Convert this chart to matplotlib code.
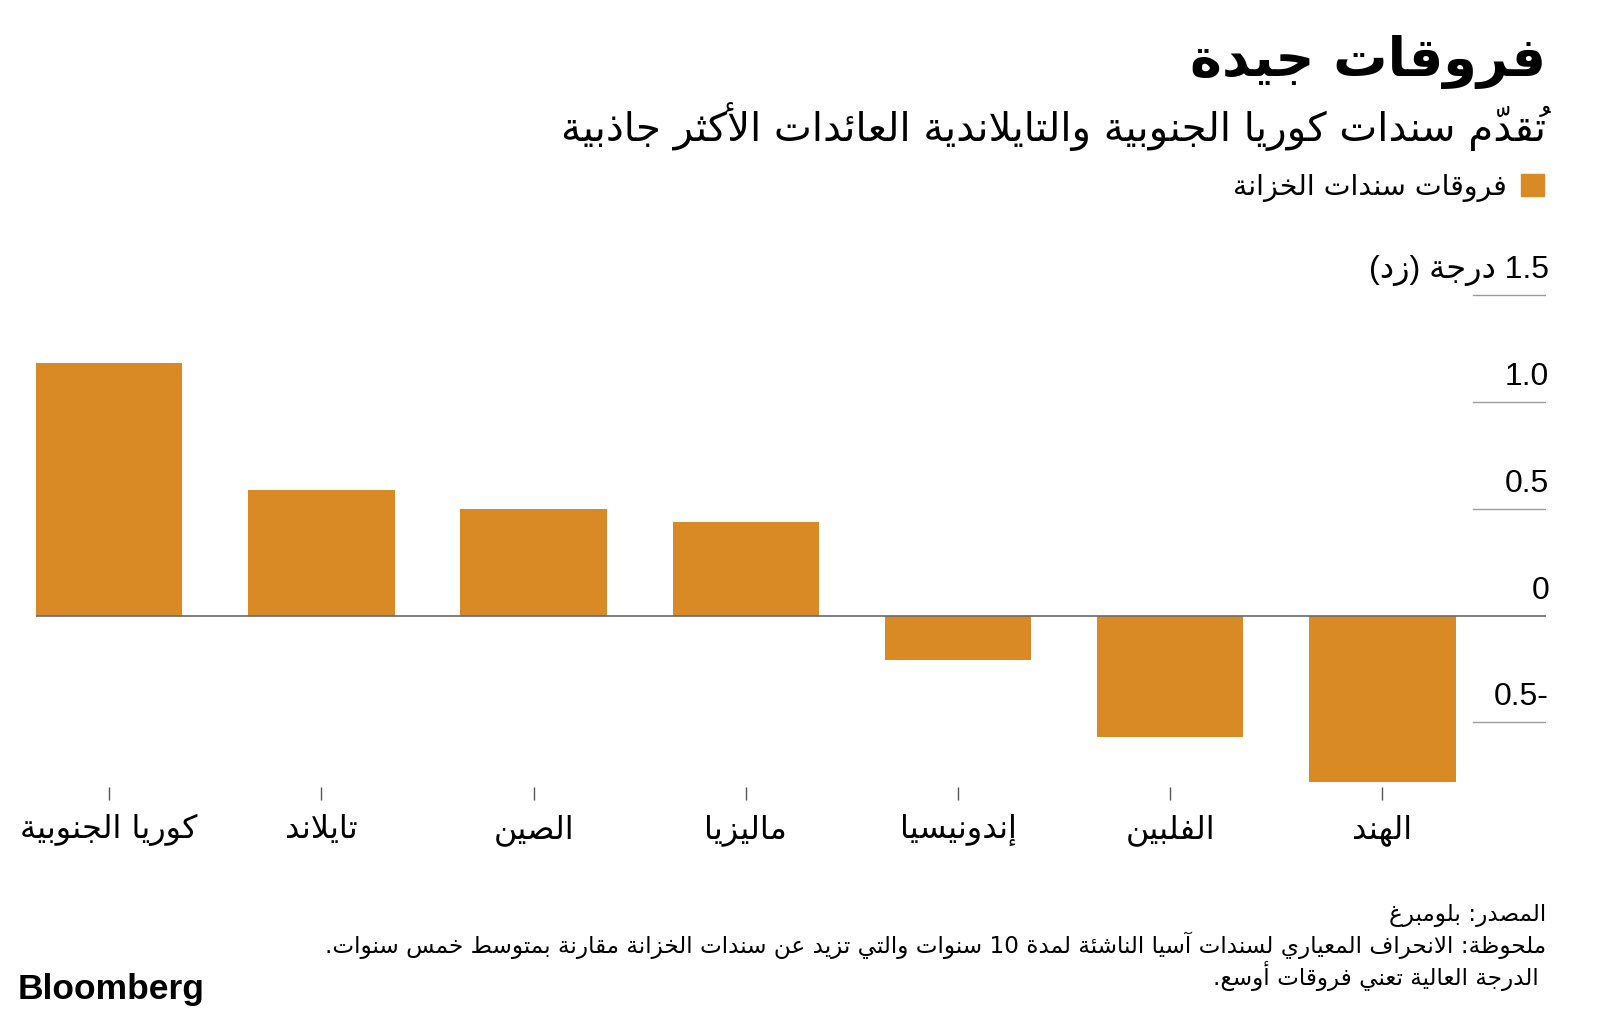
import matplotlib
matplotlib.use('Agg')
from matplotlib import pyplot as plt
from matplotlib import transforms
from matplotlib.patches import Patch

# Data (z-score of EM Asia 10y spreads over Treasuries)
countries = ['كوريا الجنوبية', 'تايلاند', 'الصين', 'ماليزيا', 'إندونيسيا', 'الفلبين', 'الهند']
spreads = [1.18, 0.59, 0.50, 0.44, -0.21, -0.57, -0.78]
ytick_vals = [1.0, 0.5, 0, -0.5]
ytick_labels = ['1.0', '0.5', '0', '-0.5']

title = 'فروقات جيدة'
subtitle = 'تُقدّم سندات كوريا الجنوبية والتايلاندية العائدات الأكثر جاذبية'
legend_label = 'فروقات سندات الخزانة'
unit_label = '1.5 درجة (زد)'
footer = ['المصدر: بلومبرغ',
          'ملحوظة: الانحراف المعياري لسندات آسيا الناشئة لمدة 10 سنوات والتي تزيد عن سندات الخزانة مقارنة بمتوسط خمس سنوات.',
          'الدرجة العالية تعني فروقات أوسع.']

BAR = '#D98A25'

# --- minimal arabic shaping + right-to-left ordering (matplotlib has no shaper) ---
FORMS = {
    'ء': (0xFE80, 1), 'آ': (0xFE81, 2), 'أ': (0xFE83, 2), 'ؤ': (0xFE85, 2),
    'إ': (0xFE87, 2), 'ئ': (0xFE89, 4), 'ا': (0xFE8D, 2), 'ب': (0xFE8F, 4),
    'ة': (0xFE93, 2), 'ت': (0xFE95, 4), 'ث': (0xFE99, 4), 'ج': (0xFE9D, 4),
    'ح': (0xFEA1, 4), 'خ': (0xFEA5, 4), 'د': (0xFEA9, 2), 'ذ': (0xFEAB, 2),
    'ر': (0xFEAD, 2), 'ز': (0xFEAF, 2), 'س': (0xFEB1, 4), 'ش': (0xFEB5, 4),
    'ص': (0xFEB9, 4), 'ض': (0xFEBD, 4), 'ط': (0xFEC1, 4), 'ظ': (0xFEC5, 4),
    'ع': (0xFEC9, 4), 'غ': (0xFECD, 4), 'ف': (0xFED1, 4), 'ق': (0xFED5, 4),
    'ك': (0xFED9, 4), 'ل': (0xFEDD, 4), 'م': (0xFEE1, 4), 'ن': (0xFEE5, 4),
    'ه': (0xFEE9, 4), 'و': (0xFEED, 2), 'ى': (0xFEEF, 2), 'ي': (0xFEF1, 4),
}
LAM_ALEF = {'آ': 0xFEF5, 'أ': 0xFEF7, 'إ': 0xFEF9, 'ا': 0xFEFB}
MARKS = set(chr(c) for c in range(0x064B, 0x0653))
MIRROR = {'(': ')', ')': '('}


def shape(s):
    cl = []
    for c in s:
        if c in MARKS and cl:
            cl[-1][1] += c
        else:
            cl.append([c, ''])

    def kind(k):
        if 0 <= k < len(cl):
            return FORMS.get(cl[k][0], (0, 0))[1]
        return 0

    out = []
    k = 0
    while k < len(cl):
        c, m = cl[k]
        start, n = FORMS.get(c, (0, 0))
        prev_joins = kind(k - 1) == 4 and n >= 2
        if c == 'ل' and k + 1 < len(cl) and cl[k + 1][0] in LAM_ALEF:
            out.append([chr(LAM_ALEF[cl[k + 1][0]] + prev_joins), m + cl[k + 1][1]])
            k += 2
            continue
        next_joins = n == 4 and kind(k + 1) >= 2
        if n == 0:
            g = c
        elif n == 4:
            g = chr(start + [[0, 2], [1, 3]][prev_joins][next_joins])
        else:
            g = chr(start + (1 if prev_joins else 0))
        out.append([g, m])
        k += 1
    return out


def ar(s):
    cl = shape(s)
    runs = []
    for i, (b, m) in enumerate(cl):
        num = b.isdigit() or (b == '.' and 0 < i < len(cl) - 1
                              and cl[i - 1][0].isdigit() and cl[i + 1][0].isdigit())
        if runs and runs[-1][0] == num:
            runs[-1][1].append(m + b)   # mark drawn first, then the letter under it
        else:
            runs.append([num, [m + b]])
    out = ''
    for num, items in reversed(runs):
        if num:
            out += ''.join(items)
        else:
            out += ''.join(MIRROR.get(x, x) for x in reversed(items))
    return out


plt.rcParams['font.family'] = ['DejaVu Sans']
NUMF = ['Liberation Sans', 'DejaVu Sans']

fig = plt.figure(figsize=(16, 10.21), dpi=100)
W, H = 1600, 1021


def fx(px):
    return px / W


def fy(py):
    return 1 - py / H


ax = fig.add_axes([0.0225, 0.2165, 0.94375, 0.516])
x = list(range(len(countries)))
bars = ax.bar(x, spreads, width=0.69, color=BAR, zorder=2)
ax.set_xlim(-0.345, 6.771)
ax.set_ylim(-0.863, 1.603)

for v in ytick_vals[:2] + ytick_vals[3:] + [1.5]:
    ax.axhline(v, xmin=0.9517, xmax=1.0, color='#9a9a9a', lw=1.0)
ax.axhline(0, color='#6a6a6a', lw=1.2, zorder=3)

for s in ax.spines.values():
    s.set_visible(False)
ax.set_yticks([])
ax.set_xticks(x)
ax.set_xticklabels([ar(c) for c in countries], fontsize=23)
ax.tick_params(axis='x', direction='in', length=9.5, width=1, color='#555555', pad=10)

lift = transforms.ScaledTranslation(0, 0.17, fig.dpi_scale_trans)
trans = transforms.blended_transform_factory(ax.transAxes, ax.transData) + lift
for v, lab in zip(ytick_vals, ytick_labels):
    ax.text(1.002, v, ar(lab), transform=trans, ha='right', va='baseline',
            fontsize=23, family=NUMF)
ax.text(1.002, 1.5, ar(unit_label), transform=trans, ha='right', va='baseline',
        fontsize=23, family=NUMF)

# Title block
fig.text(fx(1546), fy(76), ar(title), ha='right', va='baseline', fontsize=39, fontweight='bold')
fig.text(fx(1546), fy(141), ar(subtitle), ha='right', va='baseline', fontsize=29)
ax.legend([Patch(color=BAR)], [ar(legend_label)], markerfirst=False, frameon=False,
          loc='upper right', bbox_to_anchor=(fx(1544), fy(173)), bbox_transform=fig.transFigure,
          handlelength=0.8, handleheight=0.8, handletextpad=0.5, borderpad=0, borderaxespad=0,
          fontsize=20.5)

# Footer
fig.text(fx(1546), fy(921), ar(footer[0]), ha='right', va='baseline', fontsize=16.7)
fig.text(fx(1546), fy(953), ar(footer[1]), ha='right', va='baseline', fontsize=16.7)
fig.text(fx(1539), fy(985), ar(footer[2]), ha='right', va='baseline', fontsize=16.7)
fig.text(fx(18), fy(999), 'Bloomberg', ha='left', va='baseline', fontsize=25.5,
         fontweight='bold', family=['Liberation Sans', 'DejaVu Sans'])

fig.savefig('out.png', dpi=100)
